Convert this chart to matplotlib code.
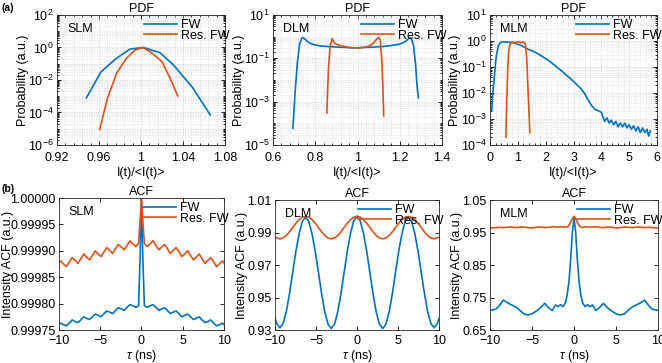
#!/usr/bin/env python3
"""
PDF and intensity ACF of fundamental wave (FW) vs residual FW for SLM / DLM / MLM
"""

import numpy as np
import matplotlib
matplotlib.use('Agg')
import matplotlib.pyplot as plt
from matplotlib.ticker import FixedLocator, AutoMinorLocator, LogLocator, NullFormatter

plt.rcParams['font.family'] = ['Liberation Sans', 'DejaVu Sans']
plt.rcParams['mathtext.fontset'] = 'custom'
plt.rcParams['mathtext.rm'] = 'Liberation Sans'
plt.rcParams['mathtext.it'] = 'Liberation Sans:italic'

BLUE = '#0072BD'
ORANGE = '#D95319'
FS = 9

# ---------------- PDF data (x = I(t)/<I(t)>, probability) ----------------
slm_fw_x = [0.948, 0.962, 0.9755, 0.9897, 1.0024, 1.018, 1.031, 1.049, 1.066]
slm_fw_p = [8e-4, 0.032, 0.19, 0.81, 1.0, 0.48, 0.083, 3.5e-3, 7e-5]
slm_res_x = [0.9606, 0.968, 0.977, 0.986, 0.9945, 1.0017, 1.010, 1.020, 1.0277, 1.035]
slm_res_p = [9e-6, 7.4e-4, 0.028, 0.21, 0.71, 1.0, 0.48, 0.135, 0.0126, 1.05e-3]

dlm_fw_x = [0.694, 0.705, 0.715, 0.726, 0.735, 0.742, 0.752, 0.765, 0.78, 0.80,
            0.83, 0.86, 0.90, 0.94, 0.98, 1.00, 1.04, 1.08, 1.12, 1.16,
            1.20, 1.23, 1.246, 1.255, 1.265, 1.275, 1.282, 1.288]
dlm_fw_p = [6e-5, 3e-3, 0.06, 0.45, 0.8, 0.92, 0.75, 0.58, 0.47, 0.41,
            0.37, 0.35, 0.33, 0.32, 0.30, 0.31, 0.32, 0.33, 0.35, 0.39,
            0.45, 0.62, 0.92, 0.80, 0.40, 0.05, 5e-3, 1.5e-3]
dlm_res_x = [0.855, 0.862, 0.870, 0.880, 0.888, 0.90, 0.92, 0.95, 0.98, 1.00,
             1.02, 1.05, 1.07, 1.09, 1.10, 1.108, 1.115, 1.12, 1.124]
dlm_res_p = [3e-4, 0.03, 0.35, 0.80, 0.55, 0.45, 0.38, 0.33, 0.31, 0.30,
             0.31, 0.35, 0.45, 0.75, 0.95, 0.70, 0.08, 5e-3, 2.2e-4]

mlm_fw_x = [0.06, 0.10, 0.145, 0.20, 0.24, 0.30, 0.36, 0.45, 0.55, 0.65,
            0.75, 0.85, 1.0, 1.15, 1.30, 1.45, 1.60, 1.82, 2.0, 2.18,
            2.35, 2.55, 2.75, 2.97, 3.1, 3.27, 3.4, 3.52, 3.64, 3.76,
            3.88, 4.0, 4.06, 4.12, 4.2, 4.28, 4.36, 4.44, 4.52, 4.6,
            4.68, 4.76, 4.84, 4.92, 5.0, 5.08, 5.16, 5.24, 5.32, 5.4,
            5.48, 5.56, 5.64, 5.7, 5.76]
mlm_fw_p = [2e-3, 1e-2, 0.03, 0.15, 0.32, 0.65, 0.85, 0.93, 0.92, 0.90,
            0.88, 0.85, 0.75, 0.65, 0.52, 0.44, 0.38, 0.28, 0.21, 0.155,
            0.11, 0.074, 0.048, 0.030, 0.022, 0.0145, 0.0095, 0.0055, 0.0034, 0.0024,
            0.0021, 0.0018, 0.0012, 0.0008, 0.0011, 0.0007, 0.0009, 0.0006, 0.0008, 0.0005,
            0.0007, 0.0005, 0.0007, 0.00045, 0.0006, 0.0004, 0.00055, 0.00035, 0.0005, 0.0003,
            0.00045, 0.0003, 0.0004, 0.00022, 0.00035]
mlm_res_x = [0.57, 0.60, 0.64, 0.68, 0.73, 0.80, 0.90, 1.0, 1.1, 1.2, 1.27, 1.32, 1.37, 1.43]
mlm_res_p = [2e-4, 5e-3, 0.1, 0.5, 0.8, 0.92, 0.85, 0.95, 0.88, 0.9, 0.78, 0.2, 0.01, 3e-4]

# ---------------- ACF data (one-sided, tau >= 0; ACF is even) ----------------
slm_tau = [0, 0.15, 0.35, 0.7, 1.05, 1.4, 1.75, 2.1, 2.45, 2.8, 3.15, 3.5, 3.85, 4.2,
           4.55, 4.9, 5.25, 5.6, 5.95, 6.3, 6.65, 7.0, 7.35, 7.7, 8.05, 8.4, 8.75,
           9.1, 9.45, 9.8, 10.0]
slm_acf_fw = [1.0, 0.999895, 0.999796, 0.999793, 0.999796, 0.999798, 0.999793, 0.999787,
              0.999790, 0.999792, 0.999787, 0.999781, 0.999784, 0.999786, 0.999781,
              0.999775, 0.999778, 0.999780, 0.999775, 0.999770, 0.999772, 0.999775,
              0.999769, 0.999764, 0.999766, 0.999769, 0.999763, 0.999758, 0.999760,
              0.999763, 0.999760]
slm_acf_res = [1.0, 0.99996, 0.999914, 0.999908, 0.999913, 0.999919, 0.999910, 0.999902,
               0.999907, 0.999912, 0.999904, 0.999895, 0.999901, 0.999906, 0.999898,
               0.999889, 0.999894, 0.999900, 0.999891, 0.999883, 0.999888, 0.999894,
               0.999885, 0.999876, 0.999882, 0.999887, 0.999879, 0.999870, 0.999875,
               0.999881, 0.999877]

dlm_tau = [0, 0.39, 0.78, 1.18, 1.57, 1.96, 2.35, 2.74, 3.14, 3.53, 3.92, 4.31, 4.70,
           5.09, 5.49, 5.88, 6.27, 6.66, 7.05, 7.45, 7.84, 8.23, 8.62, 9.01, 9.41,
           9.80, 10.0]
dlm_acf_fw = [1.0, 0.99728, 0.98979, 0.97861, 0.9654, 0.95219, 0.94101, 0.93352, 0.9309,
              0.93352, 0.94101, 0.95219, 0.9654, 0.97842, 0.98944, 0.99682, 0.9994,
              0.99682, 0.98944, 0.97842, 0.9654, 0.95238, 0.94136, 0.93398, 0.9314,
              0.93398, 0.93721]
dlm_acf_res = [1.0, 0.99947, 0.99796, 0.99571, 0.99305, 0.99039, 0.98814, 0.98663, 0.9861,
               0.98663, 0.98814, 0.99039, 0.99305, 0.99571, 0.99796, 0.99947, 0.9999,
               0.99947, 0.99796, 0.99571, 0.99305, 0.99039, 0.98814, 0.98663, 0.9861,
               0.98663, 0.98729]

mlm_tau = [0, 0.2, 0.4, 0.6, 0.8, 1.0, 1.3, 1.6, 1.9, 2.2, 2.6, 3.0, 3.5, 4.0, 4.5,
           5.0, 5.5, 6.0, 6.5, 7.0, 7.5, 8.0, 8.4, 8.8, 9.3, 10.0]
mlm_acf_fw = [0.995, 0.95, 0.865, 0.80, 0.76, 0.735, 0.722, 0.728, 0.722, 0.727, 0.71,
              0.718, 0.732, 0.718, 0.708, 0.70, 0.696, 0.700, 0.712, 0.722, 0.728,
              0.735, 0.742, 0.728, 0.714, 0.710]
mlm_acf_res = [1.0, 0.993, 0.982, 0.972, 0.967, 0.966, 0.967, 0.968, 0.966, 0.967, 0.968,
               0.966, 0.965, 0.967, 0.966, 0.964, 0.965, 0.967, 0.966, 0.965, 0.967,
               0.966, 0.965, 0.966, 0.965, 0.964]


def two_sided(tau, vals):
    """Mirror one-sided ACF data to negative delays"""
    t = np.asarray(tau)
    v = np.asarray(vals)
    return np.concatenate([-t[::-1], t[1:]]), np.concatenate([v[::-1], v[1:]])


def style_axes(ax, xpad):
    ax.tick_params(direction='in', which='both', top=True, right=True, labelsize=FS,
                   length=3, width=0.6)
    ax.tick_params(axis='x', pad=xpad)
    ax.tick_params(axis='y', pad=2.5)
    ax.tick_params(which='minor', length=1.5)
    for s in ax.spines.values():
        s.set_linewidth(0.6)
        s.set_color('#262626')


def add_legend(ax):
    ax.legend(loc='upper right', frameon=False, fontsize=FS, handlelength=2.6,
              handletextpad=0.3, labelspacing=-0.1, borderpad=0.0,
              borderaxespad=0.0, bbox_to_anchor=(1.025, 0.97))


fig = plt.figure(figsize=(6.62, 3.63), dpi=100)

pdf_pos = [[0.0861, 0.6006, 0.2538, 0.3581],
           [0.4124, 0.6006, 0.2553, 0.3581],
           [0.7402, 0.6006, 0.2523, 0.3581]]
acf_pos = [[0.0891, 0.0909, 0.2492, 0.3636],
           [0.4154, 0.0909, 0.2477, 0.3581],
           [0.7402, 0.0909, 0.2538, 0.3581]]
# y-label x position (axes fraction) per panel
pdf_ylab_x = [-0.20, -0.20, -0.21]
acf_ylab_x = [-0.31, -0.20, -0.196]

pdf_sets = [
    ('SLM', slm_fw_x, slm_fw_p, slm_res_x, slm_res_p, (0.92, 1.08),
     [0.92, 0.96, 1.0, 1.04, 1.08], ['0.92', '0.96', '1', '1.04', '1.08'],
     (1e-6, 1e2), [1e-6, 1e-4, 1e-2, 1e0, 1e2], [-6, -4, -2, 0, 2]),
    ('DLM', dlm_fw_x, dlm_fw_p, dlm_res_x, dlm_res_p, (0.6, 1.4),
     [0.6, 0.8, 1.0, 1.2, 1.4], ['0.6', '0.8', '1', '1.2', '1.4'],
     (1e-5, 1e1), [1e-5, 1e-3, 1e-1, 1e1], [-5, -3, -1, 1]),
    ('MLM', mlm_fw_x, mlm_fw_p, mlm_res_x, mlm_res_p, (0, 6),
     [0, 1, 2, 3, 4, 5, 6], ['0', '1', '2', '3', '4', '5', '6'],
     (1e-4, 1e1), [1e-4, 1e-3, 1e-2, 1e-1, 1e0, 1e1], [-4, -3, -2, -1, 0, 1]),
]

for pos, ylx, (name, fx, fp, rx, rp, xl, xt, xtl, yl, yt, yexp) in zip(pdf_pos, pdf_ylab_x, pdf_sets):
    ax = fig.add_axes(pos)
    ax.plot(fx, fp, color=BLUE, lw=1.2, label='FW')
    ax.plot(rx, rp, color=ORANGE, lw=1.2, label='Res. FW')
    ax.set_yscale('log')
    ax.set_xlim(*xl)
    ax.set_ylim(*yl)
    ax.set_xticks(xt)
    ax.set_xticklabels(xtl)
    ax.yaxis.set_major_locator(FixedLocator(yt))
    ax.set_yticklabels([r'$10^{%d}$' % e for e in yexp])
    ax.yaxis.set_minor_locator(LogLocator(base=10, subs=np.arange(1, 10), numticks=20))
    ax.yaxis.set_minor_formatter(NullFormatter())
    ax.xaxis.set_minor_locator(AutoMinorLocator(5))
    ax.grid(True, which='major', color='#bdbdbd', lw=0.5, ls=':')
    ax.grid(True, which='minor', color='#d2d2d2', lw=0.45, ls=':')
    ax.set_axisbelow(True)
    style_axes(ax, 5)
    ax.set_title('PDF', fontsize=FS, pad=2)
    ax.set_xlabel('I(t)/<I(t)>', fontsize=FS, va='center')
    ax.xaxis.set_label_coords(0.5, -0.215)
    ax.set_ylabel('Probability (a.u.)', fontsize=FS, va='center')
    ax.yaxis.set_label_coords(ylx, 0.5)
    ax.text(0.06, 0.94, name, transform=ax.transAxes, fontsize=FS, va='top')
    add_legend(ax)

acf_sets = [
    ('SLM', slm_tau, slm_acf_fw, slm_acf_res, (0.99975, 1.0),
     [0.99975, 0.99980, 0.99985, 0.99990, 0.99995, 1.0], '%.5f'),
    ('DLM', dlm_tau, dlm_acf_fw, dlm_acf_res, (0.93, 1.01),
     [0.93, 0.95, 0.97, 0.99, 1.01], '%.2f'),
    ('MLM', mlm_tau, mlm_acf_fw, mlm_acf_res, (0.65, 1.05),
     [0.65, 0.75, 0.85, 0.95, 1.05], '%.2f'),
]

for pos, ylx, (name, tau, fw, res, yl, yt, fmt) in zip(acf_pos, acf_ylab_x, acf_sets):
    ax = fig.add_axes(pos)
    t, v = two_sided(tau, fw)
    ax.plot(t, v, color=BLUE, lw=1.2, label='FW')
    t, v = two_sided(tau, res)
    ax.plot(t, v, color=ORANGE, lw=1.2, label='Res. FW')
    ax.set_xlim(-10, 10)
    ax.set_ylim(*yl)
    ax.set_xticks([-10, -5, 0, 5, 10])
    ax.set_yticks(yt)
    ax.set_yticklabels([fmt % y for y in yt])
    style_axes(ax, 3.5)
    ax.set_title('ACF', fontsize=FS, pad=2)
    ax.set_xlabel(r'$\tau$ (ns)', fontsize=FS, va='center')
    ax.xaxis.set_label_coords(0.5, -0.2)
    ax.set_ylabel('Intensity ACF (a.u.)', fontsize=FS, va='center')
    ax.yaxis.set_label_coords(ylx, 0.5)
    ax.text(0.06, 0.94, name, transform=ax.transAxes, fontsize=FS, va='top')
    add_legend(ax)

fig.text(0.002, 0.978, '(a)', fontsize=7.5, fontweight='bold', va='center')
fig.text(0.002, 0.478, '(b)', fontsize=7.5, fontweight='bold', va='center')

fig.savefig('out.png', dpi=100)
plt.close(fig)
